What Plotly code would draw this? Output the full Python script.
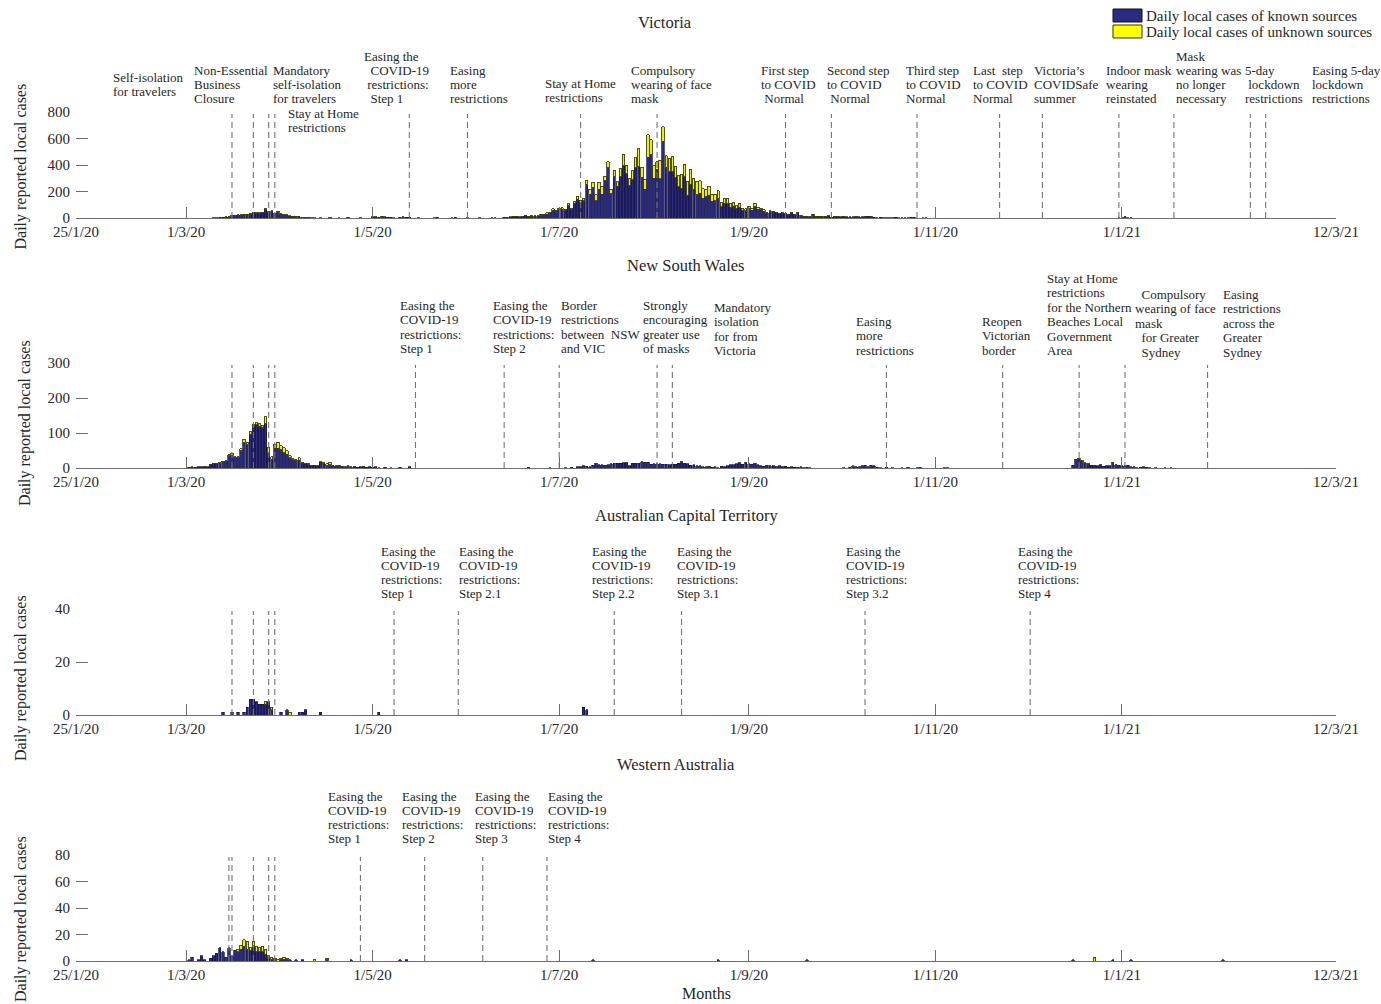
import pandas as pd
import plotly.graph_objects as go

W, H = 1381, 1004
FONT = "Liberation Serif, Times New Roman, serif"
TXT = "#262626"
AX = "#6e6e6e"

# ---------------- axis ticks ----------------
x_range = ["2020-01-25", "2021-03-12"]
x_tick_vals = ["2020-01-25", "2020-03-01", "2020-05-01", "2020-07-01",
               "2020-09-01", "2020-11-01", "2021-01-01", "2021-03-12"]
x_tick_text = ["25/1/20", "1/3/20", "1/5/20", "1/7/20", "1/9/20", "1/11/20", "1/1/21", "12/3/21"]

# ---------------- Victoria (daily, from start date) ----------------
vic_a_start = "2020-03-10"
vic_a_known = [
    2, 3, 4, 6, 8, 10, 18, 20, 22, 22, 24, 26, 30, 38, 36, 35, 38, 62, 42, 50, 32, 45,            # Mar 10-31
    30, 25, 20, 14, 12, 10, 8, 6, 5, 4, 3, 2, 0, 2, 0, 0, 3, 0, 0, 2, 0, 0, 4, 0, 0, 0, 2, 0, 0, 0,  # Apr
    8, 10, 6, 10, 9, 5, 6, 3, 0, 7, 7, 5, 4, 0, 0, 2, 0, 0, 0, 0, 3, 4, 0, 0, 0, 0, 3, 4, 0, 0, 0,  # May
    3, 0, 0, 0, 2, 0, 0, 0, 2, 3, 0, 0, 4, 6, 8, 10, 12, 10, 10, 18, 12, 14, 13, 15, 24, 23, 30, 37, 60, 52,  # Jun
    65, 67, 58, 96, 64, 112, 143, 116, 130, 255, 181, 230, 132, 218, 178, 280, 380, 182, 310, 238,
    312, 395, 335, 243, 290, 380, 385, 302, 218, 460, 480,                                           # Jul
    300, 365, 295, 580, 383, 348, 348, 302, 235, 225, 310, 172, 253, 215, 177, 185, 150, 159, 173, 128,
    130, 150, 85, 111, 108, 82, 87, 71, 83, 56, 55,                                                  # Aug
    69, 60, 87, 65, 63, 52, 35, 47, 45, 38, 31, 37, 32, 25, 38, 26, 42, 19, 13, 13,
    10, 26, 14, 13, 11, 11, 15, 5, 9, 12,                                                            # Sep
    8, 12, 8, 8, 8, 11, 11, 11, 12, 12, 13, 4, 2, 6, 3, 3, 3, 2, 4, 1, 3, 1, 2, 5, 7, 0, 0, 3, 1, 0, 0,  # Oct
]
vic_a_unknown = [
    0, 0, 0, 0, 1, 1, 2, 2, 3, 2, 3, 3, 4, 4, 3, 4, 5, 8, 6, 6, 5, 6,
    4, 4, 3, 3, 2, 2, 2, 1, 1, 1, 0, 0, 0, 0, 0, 0, 1, 0, 0, 0, 0, 0, 0, 0, 0, 0, 0, 0, 0, 0,
    0, 0, 0, 2, 0, 0, 0, 0, 0, 0, 2, 0, 0, 0, 0, 0, 0, 0, 0, 0, 0, 0, 0, 0, 0, 0, 0, 0, 0, 0, 0,
    0, 0, 0, 0, 0, 0, 0, 0, 0, 0, 0, 0, 0, 0, 0, 2, 3, 0, 2, 4, 3, 3, 3, 3, 6, 5, 8, 8, 10, 8,
    8, 10, 8, 12, 10, 15, 22, 18, 20, 30, 35, 40, 45, 50, 60, 35, 45, 35, 50, 35,
    60, 85, 65, 55, 65, 75, 140, 80, 75, 170, 110,
    95, 60, 140, 110, 85, 100, 115, 90, 85, 105, 95, 105, 115, 85, 100, 95, 70, 55, 65, 50,
    50, 55, 30, 35, 40, 30, 28, 22, 30, 16, 15,
    20, 15, 25, 15, 12, 10, 6, 8, 6, 5, 4, 4, 3, 3, 4, 2, 3, 2, 1, 1,
    1, 2, 1, 1, 1, 1, 1, 0, 1, 1,
    0, 1, 0, 0, 0, 1, 0, 0, 2, 0, 2, 0, 0, 0, 0, 0, 0, 0, 0, 0, 0, 0, 0, 0, 0, 0, 0, 0, 0, 0, 0,
]
vic_b_start = "2020-12-31"
vic_b_known = [2, 3, 8, 3, 2]
vic_b_unknown = [0, 0, 1, 0, 0]

# ---------------- New South Wales ----------------
nsw_a_start = "2020-03-01"
nsw_a_known = [
    0, 2, 3, 2, 4, 3, 4, 4, 9, 13, 13, 14, 17, 19, 35, 37, 29, 29, 50, 72,
    67, 96, 119, 123, 118, 115, 126, 42, 24, 56, 57,                                  # Mar
    52, 44, 40, 29, 23, 21, 22, 14, 12, 10, 7, 6, 5, 16, 14, 7, 10, 6, 5, 6,
    4, 4, 5, 3, 4, 2, 3, 3, 2, 3,                                                     # Apr
    2, 3, 1, 0, 2, 0, 1, 0, 0, 2, 0, 0, 3, 0, 0,                                      # May 1-15
]
nsw_a_unknown = [
    0, 0, 0, 0, 0, 0, 1, 0, 1, 1, 1, 2, 2, 2, 3, 5, 3, 3, 5, 10,
    6, 8, 6, 7, 8, 6, 21, 18, 8, 12, 16,
    12, 14, 10, 6, 4, 3, 8, 3, 2, 2, 1, 1, 1, 2, 3, 5, 6, 1, 1, 2,
    1, 0, 1, 0, 1, 0, 0, 1, 0, 0,
    0, 0, 0, 0, 0, 0, 0, 0, 0, 0, 0, 0, 0, 0, 0,
]
nsw_b_start = "2020-06-20"
nsw_b_known = [
    0, 2, 0, 0, 0, 0, 0, 0, 1, 0, 0,                                                  # Jun 20-30
    0, 0, 1, 0, 2, 0, 3, 4, 6, 5, 3, 8, 12, 10, 10, 8, 10, 11, 13, 14,
    13, 15, 16, 7, 13, 14, 14, 17, 17, 17, 11,                                        # Jul
    12, 12, 12, 11, 11, 10, 11, 11, 14, 17, 14, 12, 8, 10, 7, 6, 3, 3, 5, 2,
    3, 1, 5, 3, 7, 9, 10, 12, 14, 11, 16,                                             # Aug
    12, 11, 13, 9, 7, 5, 8, 6, 6, 4, 6, 3, 5, 2, 3, 2, 2, 3, 1, 2,
    1, 0, 0, 0, 0, 0, 0, 0, 0, 0,                                                     # Sep
    0, 1, 0, 2, 6, 4, 3, 6, 8, 4, 8, 6, 2, 1, 0, 2, 0, 1, 0, 0,
    1, 0, 2, 0, 0, 1, 2, 0, 0, 0, 0,                                                  # Oct
    0, 0, 0, 1, 1,                                                                    # Nov 1-5
]
nsw_b_unknown = [
    0, 0, 0, 0, 0, 0, 0, 0, 0, 0, 0,
    0, 0, 0, 0, 0, 0, 0, 0, 0, 0, 0, 0, 1, 0, 0, 0, 0, 1, 0, 0,
    0, 0, 1, 0, 0, 0, 0, 1, 0, 0, 0,
    0, 0, 0, 0, 0, 0, 0, 0, 0, 1, 0, 0, 0, 0, 0, 0, 0, 0, 0, 0,
    0, 0, 0, 0, 0, 0, 0, 0, 1, 0, 1,
    0, 0, 1, 0, 0, 0, 0, 0, 0, 0, 0, 0, 0, 0, 0, 0, 0, 0, 0, 0,
    0, 0, 0, 0, 0, 0, 0, 0, 0, 0,
    0, 0, 0, 0, 0, 0, 0, 0, 0, 0, 0, 0, 0, 0, 0, 0, 0, 0, 0, 0,
    0, 0, 0, 0, 0, 0, 0, 0, 0, 0, 0,
    0, 0, 0, 0, 0,
]
nsw_c_start = "2020-12-16"
nsw_c_known = [8, 24, 26, 20, 13, 11, 8, 7, 7, 8, 5, 7, 6, 14, 9, 8,
               7, 6, 8, 4, 3, 1, 2, 3, 2, 1, 0, 1, 0, 0, 1, 0, 1]
nsw_c_unknown = [0, 1, 2, 2, 2, 1, 0, 1, 0, 1, 0, 0, 0, 2, 1, 0,
                 0, 1, 0, 0, 0, 0, 0, 0, 0, 0, 0, 0, 0, 0, 0, 0, 0]

# ---------------- Australian Capital Territory (sparse days) ----------------
act_dates = ["2020-03-13", "2020-03-16", "2020-03-18", "2020-03-20", "2020-03-21", "2020-03-22",
             "2020-03-23", "2020-03-24", "2020-03-25", "2020-03-26", "2020-03-27", "2020-03-28",
             "2020-03-29", "2020-04-01", "2020-04-03", "2020-04-04", "2020-04-07", "2020-04-08",
             "2020-04-09", "2020-04-14", "2020-05-03", "2020-07-09", "2020-07-10"]
act_known = [1, 1, 1, 1, 3, 6, 6, 5, 4, 4, 4, 5, 2, 1, 2, 0, 1, 1, 2, 1, 1, 3, 2]
act_unknown = [0, 0, 0, 0, 0, 0, 0, 0, 0, 0, 1, 0, 1, 0, 0, 1, 0, 0, 0, 0, 0, 0, 0]

# ---------------- Western Australia (sparse days) ----------------
wa_dates = ["2020-03-02", "2020-03-03", "2020-03-05", "2020-03-06", "2020-03-07", "2020-03-09",
            "2020-03-10", "2020-03-11", "2020-03-12", "2020-03-13", "2020-03-14", "2020-03-15",
            "2020-03-16", "2020-03-17", "2020-03-18", "2020-03-19", "2020-03-20", "2020-03-21",
            "2020-03-22", "2020-03-23", "2020-03-24", "2020-03-25", "2020-03-26", "2020-03-27",
            "2020-03-28", "2020-03-29", "2020-03-30", "2020-03-31", "2020-04-01", "2020-04-02",
            "2020-04-03", "2020-04-04", "2020-04-06", "2020-04-08", "2020-04-12", "2020-04-16",
            "2020-04-24", "2020-05-10", "2020-05-12", "2020-07-12", "2020-08-22", "2020-09-20",
            "2020-12-16", "2020-12-23", "2020-12-29", "2021-01-04", "2021-02-03"]
wa_known = [1, 3, 1, 4, 1, 2, 4, 6, 10, 7, 3, 10, 4, 8, 7, 9, 11, 9, 8, 10, 7, 7, 7, 5,
            2, 1, 1, 0, 1, 1, 1, 1, 1, 1, 0, 1, 1, 1, 1, 1, 1, 1, 1, 0, 1, 1, 1]
wa_unknown = [0, 0, 0, 0, 0, 0, 0, 0, 0, 0, 0, 0, 0, 0, 2, 3, 5, 6, 2, 5, 4, 3, 4, 4,
              2, 2, 1, 1, 1, 2, 1, 0, 0, 0, 1, 1, 0, 0, 0, 0, 0, 0, 0, 3, 0, 0, 0]

# ---------------- interventions ----------------
vic_event_dates = ["2020-03-16", "2020-03-23", "2020-03-28", "2020-03-30", "2020-05-13", "2020-06-01",
                   "2020-07-08", "2020-08-02", "2020-09-13", "2020-09-28", "2020-10-26", "2020-11-22",
                   "2020-12-06", "2020-12-31", "2021-01-18", "2021-02-12", "2021-02-17"]
vic_event_labels = ["Self-isolation|for travelers", "Non-Essential|Business|Closure",
                    "Mandatory|self-isolation|for travelers", "Stay at Home|restrictions",
                    "Easing the|~~COVID-19|~restrictions:|~~Step 1", "Easing|more|restrictions",
                    "Stay at Home|restrictions", "Compulsory|wearing of face|mask",
                    "First step|to COVID|~Normal", "Second step|to COVID|~Normal",
                    "Third step|to COVID|Normal", "Last~ step|to COVID|Normal",
                    "Victoria’s|COVIDSafe|summer", "Indoor mask|wearing|reinstated",
                    "Mask|wearing was|no longer|necessary", "5-day|~lockdown|restrictions",
                    "Easing 5-day|lockdown|restrictions"]

nsw_event_dates = ["2020-03-16", "2020-03-23", "2020-03-28", "2020-03-30", "2020-05-15", "2020-06-13",
                   "2020-07-01", "2020-08-02", "2020-08-07", "2020-10-16", "2020-11-23", "2020-12-18",
                   "2021-01-02", "2021-01-29"]
nsw_event_labels = ["", "", "", "",
                    "Easing the|COVID-19|restrictions:|Step 1", "Easing the|COVID-19|restrictions:|Step 2",
                    "Border|restrictions|between~ NSW|and VIC", "Strongly|encouraging|greater use|of masks",
                    "Mandatory|isolation|for from|Victoria", "Easing|more|restrictions",
                    "Reopen|Victorian|border",
                    "Stay at Home|restrictions|for the Northern|Beaches Local|Government|Area",
                    "~~Compulsory|wearing of face|mask|~~for Greater|~~Sydney",
                    "Easing|restrictions|across the|Greater|Sydney"]

act_event_dates = ["2020-03-16", "2020-03-23", "2020-03-28", "2020-03-30", "2020-05-08", "2020-05-29",
                   "2020-07-19", "2020-08-10", "2020-10-09", "2020-12-02"]
act_event_labels = ["", "", "", "",
                    "Easing the|COVID-19|restrictions:|Step 1", "Easing the|COVID-19|restrictions:|Step 2.1",
                    "Easing the|COVID-19|restrictions:|Step 2.2", "Easing the|COVID-19|restrictions:|Step 3.1",
                    "Easing the|COVID-19|restrictions:|Step 3.2", "Easing the|COVID-19|restrictions:|Step 4"]

wa_event_dates = ["2020-03-15", "2020-03-16", "2020-03-23", "2020-03-28", "2020-03-30", "2020-04-27",
                  "2020-05-18", "2020-06-06", "2020-06-27"]
wa_event_labels = ["", "", "", "", "",
                   "Easing the|COVID-19|restrictions:|Step 1", "Easing the|COVID-19|restrictions:|Step 2",
                   "Easing the|COVID-19|restrictions:|Step 3", "Easing the|COVID-19|restrictions:|Step 4"]

# ---------------- layout (pixel) settings ----------------
vic_label_pos = [(112, 77), (193, 70.5), (272, 70.5), (287, 113), (363, 56.5), (449, 70.5), (544, 83),
                 (630, 70.5), (760, 70.5), (826, 70.5), (905, 70.5), (972, 70.5), (1033, 70.5),
                 (1105, 70.5), (1175, 56.5), (1244, 70.5), (1311, 70.5)]
nsw_label_pos = [None, None, None, None, (399, 305.5), (492, 305.5), (560, 305.5), (642, 305.5),
                 (713, 307.5), (855, 321.5), (981, 321.5), (1046, 278.5), (1134, 294.5), (1222, 294.5)]
act_label_pos = [None, None, None, None, (380, 551), (458, 551), (591, 551), (676, 551), (845, 551), (1017, 551)]
wa_label_pos = [None, None, None, None, None, (327, 796), (401, 796), (474, 796), (547, 796)]


def expand(start, known, unknown):
    assert len(known) == len(unknown), (start, len(known), len(unknown))
    d = pd.date_range(start, periods=len(known), freq="D")
    return list(d), list(known), list(unknown)


def collect(segments):
    D, K, U = [], [], []
    for s in segments:
        d, k, u = expand(*s)
        D += d
        K += k
        U += u
    return D, K, U


vic = collect([(vic_a_start, vic_a_known, vic_a_unknown), (vic_b_start, vic_b_known, vic_b_unknown)])
nsw = collect([(nsw_a_start, nsw_a_known, nsw_a_unknown), (nsw_b_start, nsw_b_known, nsw_b_unknown),
               (nsw_c_start, nsw_c_known, nsw_c_unknown)])
act = (list(pd.to_datetime(act_dates)), act_known, act_unknown)
wa = (list(pd.to_datetime(wa_dates)), wa_known, wa_unknown)

panels = [
    dict(title="Victoria", tx=665, ty=23, top=112, bottom=218, yr=[0, 800], yt=[0, 200, 400, 600, 800],
         data=vic, ev=vic_event_dates, lab=vic_event_labels, pos=vic_label_pos, ls=14.0, yty=166.5, ytx=21),
    dict(title="New South Wales", tx=685.5, ty=265, top=363, bottom=468, yr=[0, 300], yt=[0, 100, 200, 300],
         data=nsw, ev=nsw_event_dates, lab=nsw_event_labels, pos=nsw_label_pos, ls=14.4, yty=423, ytx=25),
    dict(title="Australian Capital Territory", tx=686, ty=515, top=609, bottom=715, yr=[0, 40], yt=[0, 20, 40],
         data=act, ev=act_event_dates, lab=act_event_labels, pos=act_label_pos, ls=14.0, yty=678, ytx=21),
    dict(title="Western Australia", tx=676, ty=764, top=855, bottom=961, yr=[0, 80], yt=[0, 20, 40, 60, 80],
         data=wa, ev=wa_event_dates, lab=wa_event_labels, pos=wa_label_pos, ls=14.0, yty=919, ytx=21),
]

KNOWN_FILL, KNOWN_EDGE = "#2C2B84", "#15153c"
UNK_FILL, UNK_EDGE = "#EDED10", "#3f3f00"
BAR_W = 0.8 * 86400000


def px(xp):
    return xp / W


def py(yp):
    return 1 - yp / H


fig = go.Figure()
layout = dict(template="none", width=W, height=H, autosize=False,
              margin=dict(l=0, r=0, t=0, b=0, pad=0), paper_bgcolor="white",
              plot_bgcolor="white", barmode="stack", showlegend=False,
              font=dict(family=FONT, size=15, color=TXT))
shapes, annotations = [], []

for i, p in enumerate(panels):
    n = "" if i == 0 else str(i + 1)
    xa, ya = "x" + n, "y" + n
    dates, known, unknown = p["data"]
    kd = [d for d, v in zip(dates, known) if v > 0]
    kv = [v for v in known if v > 0]
    ud = [d for d, v in zip(dates, unknown) if v > 0]
    uv = [v for v in unknown if v > 0]
    fig.add_trace(go.Bar(x=kd, y=kv, xaxis=xa, yaxis=ya, width=BAR_W, name="Daily local cases of known sources",
                         marker=dict(color=KNOWN_FILL, line=dict(color=KNOWN_EDGE, width=0.7))))
    fig.add_trace(go.Bar(x=ud, y=uv, xaxis=xa, yaxis=ya, width=BAR_W, name="Daily local cases of unknown sources",
                         marker=dict(color=UNK_FILL, line=dict(color=UNK_EDGE, width=0.9))))
    layout["xaxis" + n] = dict(domain=[px(76), px(1336)], anchor=ya, type="date", range=x_range,
                               automargin=False,
                               tickmode="array", tickvals=x_tick_vals, ticktext=x_tick_text,
                               ticks="inside", ticklen=11, tickwidth=1, tickcolor=AX,
                               showline=True, linecolor=AX, linewidth=1, showgrid=False, zeroline=False,
                               tickfont=dict(family=FONT, size=15, color=TXT), fixedrange=True)
    layout["yaxis" + n] = dict(domain=[py(p["bottom"]), py(p["top"])], anchor=xa, range=p["yr"],
                               automargin=False, ticklabelstandoff=5,
                               tickmode="array", tickvals=p["yt"], ticks="inside", ticklen=12, tickwidth=1,
                               tickcolor=AX, showline=False, showgrid=False, zeroline=False,
                               tickfont=dict(family=FONT, size=15, color=TXT), fixedrange=True)
    # dashed intervention lines
    for d in p["ev"]:
        shapes.append(dict(type="line", xref=xa, yref=ya + " domain", x0=d, x1=d, y0=0, y1=0.98,
                           line=dict(color="#747474", width=1.1, dash="6px,4px")))
    # intervention labels (one annotation per text line)
    for lab, pos in zip(p["lab"], p["pos"]):
        if not lab or pos is None:
            continue
        x0, y0 = pos
        for j, line in enumerate(lab.split("|")):
            annotations.append(dict(text=line.replace("~", "\u00a0"), xref="paper", yref="paper",
                                    x=px(x0 - 1), y=py(y0 + j * p["ls"]), xanchor="left", yanchor="middle",
                                    showarrow=False, font=dict(family=FONT, size=13, color=TXT)))
    # panel title
    annotations.append(dict(text=p["title"], xref="paper", yref="paper", x=px(p["tx"]), y=py(p["ty"]),
                            xanchor="center", yanchor="middle", showarrow=False,
                            font=dict(family=FONT, size=16.5, color=TXT)))
    # y-axis title
    annotations.append(dict(text="Daily reported local cases", xref="paper", yref="paper",
                            x=px(p["ytx"]), y=py(p["yty"]), xanchor="center", yanchor="middle",
                            textangle=-90, showarrow=False, font=dict(family=FONT, size=16, color=TXT)))

# x-axis title
annotations.append(dict(text="Months", xref="paper", yref="paper", x=px(706), y=py(993),
                        xanchor="center", yanchor="middle", showarrow=False,
                        font=dict(family=FONT, size=16, color=TXT)))

# legend (drawn manually to match wide swatches)
legend_items = [("Daily local cases of known sources", KNOWN_FILL, "#111111", 9, 22),
                ("Daily local cases of unknown sources", "#FFFF00", "#333300", 25, 38)]
for text, fill, edge, y0, y1 in legend_items:
    shapes.append(dict(type="rect", xref="paper", yref="paper", x0=px(1113), x1=px(1142),
                       y0=py(y1), y1=py(y0), fillcolor=fill, line=dict(color=edge, width=1)))
    annotations.append(dict(text=text, xref="paper", yref="paper", x=px(1144), y=py((y0 + y1) / 2 + 0.5),
                            xanchor="left", yanchor="middle", showarrow=False,
                            font=dict(family=FONT, size=15, color=TXT)))

layout["shapes"] = shapes
layout["annotations"] = annotations
fig.update_layout(**layout)

fig.write_html("out.html", config={"displayModeBar": False, "staticPlot": True},
               post_script="document.body.style.margin='0px';document.body.style.overflow='hidden';")
